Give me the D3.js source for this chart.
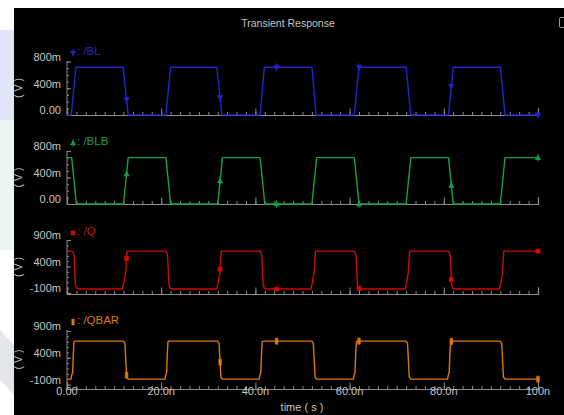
<!DOCTYPE html>
<html><head><meta charset="utf-8">
<script src="https://cdn.jsdelivr.net/npm/d3@7/dist/d3.min.js"></script>
<style>body{margin:0;background:#fff;overflow:hidden}svg{display:block}</style>
</head><body>
<svg id="c" width="564" height="415"></svg>
<script>
// ---------- data (time in ns, value in V) ----------
const blTime = [0,0.9,1.9,11.9,13.0,21.0,22.0,31.8,32.9,41.0,41.9,52.0,52.9,61.0,62.0,72.0,73.0,81.0,82.0,92.0,93.0,100];
const blVals = [0,0,0.715,0.715,0,0,0.715,0.715,0,0,0.715,0.715,0,0,0.715,0.715,0,0,0.715,0.715,0,0];

const blbTime = [0,1.0,2.0,12.0,13.0,21.0,22.0,32.0,33.0,41.0,42.0,52.0,53.0,61.0,62.0,72.0,73.0,81.0,82.0,92.0,93.0,100];
const blbVals = [0.70,0.70,0,0,0.70,0.70,0,0,0.70,0.70,0,0,0.70,0.70,0,0,0.70,0.70,0,0,0.70,0.70];

const qTime = [0,1.2,1.5,1.63,1.77,2.05,2.4,
  11.8,12.1,12.45,12.67,12.75,
  21.0,21.35,21.5,21.65,21.87,22.2,
  31.8,32.1,32.45,32.67,32.75,
  41.0,41.35,41.5,41.65,41.87,42.2,
  51.8,52.1,52.45,52.67,52.75,
  61.0,61.35,61.5,61.65,61.87,62.2,
  71.8,72.1,72.45,72.67,72.75,
  81.0,81.35,81.5,81.65,81.87,82.2,
  91.8,92.1,92.45,92.67,92.75,
  100];
const qVals = [0.69,0.69,0.62,0.34,0.06,-0.01,-0.025,
  -0.025,0.10,0.28,0.58,0.69,
  0.69,0.62,0.34,0.06,-0.01,-0.025,
  -0.025,0.10,0.28,0.58,0.69,
  0.69,0.62,0.34,0.06,-0.01,-0.025,
  -0.025,0.10,0.28,0.58,0.69,
  0.69,0.62,0.34,0.06,-0.01,-0.025,
  -0.025,0.10,0.28,0.58,0.69,
  0.69,0.62,0.34,0.06,-0.01,-0.025,
  -0.025,0.10,0.28,0.58,0.69,
  0.69];

const qbTime = [0,0.85,1.0,1.2,1.34,1.49,1.77,
  11.96,12.3,12.5,12.67,13.0,
  20.8,20.95,21.15,21.29,21.44,21.72,
  31.96,32.3,32.5,32.67,33.0,
  40.8,40.95,41.15,41.29,41.44,41.72,
  51.96,52.3,52.5,52.67,53.0,
  60.8,60.95,61.15,61.29,61.44,61.72,
  71.96,72.3,72.5,72.67,73.0,
  80.8,80.95,81.15,81.29,81.44,81.72,
  91.96,92.3,92.5,92.67,93.0,
  100];
const qbVals = [0.0,0.0,0.07,0.13,0.45,0.70,0.71,
  0.71,0.67,0.32,0.04,0.0,
  0.0,0.07,0.13,0.45,0.70,0.71,
  0.71,0.67,0.32,0.04,0.0,
  0.0,0.07,0.13,0.45,0.70,0.71,
  0.71,0.67,0.32,0.04,0.0,
  0.0,0.07,0.13,0.45,0.70,0.71,
  0.71,0.67,0.32,0.04,0.0,
  0.0,0.07,0.13,0.45,0.70,0.71,
  0.71,0.67,0.32,0.04,0.0,
  0.0];

const markerTimes = [12.65, 32.5, 44.5, 62.0, 81.6, 100];

const xTickValues = [0,20,40,60,80,100];
const xTickLabels = ["0.00","20.0n","40.0n","60.0n","80.0n","100n"];
const ticksA = [0,0.4,0.8], labelsA = ["0.00","400m","800m"];
const ticksB = [-0.1,0.4,0.9], labelsB = ["-100m","400m","900m"];

const title = "Transient Response";
const xTitle = "time ( s )";
const yTitle = "( V )";

// ---------- layout ----------
const svg = d3.select("#c");
const TXT = "#c4c4c4", AX = "#8c8c8c";
const FONT = "'Liberation Sans', Arial, sans-serif";

// white page with faint watermark at left
svg.append("rect").attr("width",564).attr("height",415).attr("fill","#ffffff");
svg.append("rect").attr("x",0).attr("y",30).attr("width",14).attr("height",90).attr("fill","#e2e5f6");
svg.append("rect").attr("x",0).attr("y",120).attr("width",14).attr("height",130).attr("fill","#eaf6ef");
svg.append("path").attr("d","M0,330 L14,345 L14,395 L0,380 Z").attr("fill","#e4e6ea");
// black plot window
svg.append("rect").attr("x",14).attr("y",8).attr("width",550).attr("height",407).attr("fill","#000");

// top-right icon
svg.append("rect").attr("x",559.5).attr("y",17.5).attr("width",8).attr("height",10).attr("rx",1)
  .attr("fill","none").attr("stroke","#9a9a9a").attr("stroke-width",1);

svg.append("text").attr("x",288).attr("y",24).attr("text-anchor","middle").attr("dominant-baseline","middle")
  .attr("fill",TXT).attr("font-family",FONT).attr("font-size",10.5).text(title);

const x = d3.scaleLinear().domain([0,100]).range([67,538]);

const panels = [
  {name:"/BL", t:blTime, v:blVals, color:"#2424cc", mk:"down", dom:[0,0.8], rng:[115,61.5], axisY:115, top:61, ticks:ticksA, labels:labelsA, legY:52},
  {name:"/BLB", t:blbTime, v:blbVals, color:"#14a04a", mk:"up", dom:[0,0.8], rng:[204,151], axisY:204, top:151, ticks:ticksA, labels:labelsA, legY:142},
  {name:"/Q", t:qTime, v:qVals, color:"#cc0a0a", mk:"sq", dom:[-0.1,0.9], rng:[293,240], axisY:294, top:240, ticks:ticksB, labels:labelsB, legY:232},
  {name:"/QBAR", t:qbTime, v:qbVals, color:"#dc7a08", mk:"bar", dom:[-0.1,0.9], rng:[384.5,331], axisY:389, top:330, ticks:ticksB, labels:labelsB, legY:321}
];

function valueAt(ts, vs, t){
  const i = d3.bisectLeft(ts, t);
  if (i <= 0) return vs[0];
  if (i >= ts.length) return vs[vs.length-1];
  const t0 = ts[i-1], t1 = ts[i];
  return d3.interpolateNumber(vs[i-1], vs[i])((t - t0) / (t1 - t0 || 1));
}

function markerPath(kind){
  if (kind === "down") return "M-2.5,-2 L2.5,-2 L0,2.5 Z M0,-4 L0,4";
  if (kind === "up") return "M-2.5,2 L2.5,2 L0,-2.5 Z M0,-4 L0,4";
  if (kind === "sq") return "M-2,-2 L2,-2 L2,2 L-2,2 Z";
  return "M-1.2,-3 L1.2,-3 L1.2,3 L-1.2,3 Z";
}

const minorX = d3.range(0, 101, 2);
const majorX = xTickValues;

panels.forEach(p => {
  const y = d3.scaleLinear().domain(p.dom).range(p.rng);
  const g = svg.append("g");

  // x axis baseline with ticks
  const xa = g.append("g").attr("transform",`translate(0,${p.axisY})`);
  xa.call(d3.axisTop(x).tickValues(minorX).tickSize(3).tickFormat(""));
  const xb = g.append("g").attr("transform",`translate(0,${p.axisY})`);
  xb.call(d3.axisTop(x).tickValues(majorX).tickSize(6.5).tickFormat(""));
  [xa,xb].forEach(s => { s.selectAll("path").attr("stroke",AX).attr("stroke-width",1.2);
    s.selectAll("line").attr("stroke",AX); });

  // y axis
  const minorY = d3.range(Math.round(p.dom[0]*10), Math.round(p.dom[1]*10)+1).map(d => d/10);
  const ya = g.append("g").attr("transform","translate(67,0)");
  ya.call(d3.axisRight(y).tickValues(minorY).tickSize(2).tickFormat("").tickSizeOuter(0));
  const yb = g.append("g").attr("transform","translate(67,0)");
  yb.call(d3.axisRight(y).tickValues(p.ticks).tickSize(4).tickFormat("").tickSizeOuter(0));
  [ya,yb].forEach(s => { s.select("path").remove(); s.selectAll("line").attr("stroke",AX); });
  g.append("line").attr("x1",67).attr("x2",67).attr("y1",p.axisY).attr("y2",p.top)
    .attr("stroke",AX).attr("stroke-width",1);

  // y tick labels
  g.selectAll("text.yl").data(p.ticks).join("text").attr("class","yl")
    .attr("x",61).attr("y",d => y(d) - 3.5).attr("text-anchor","end").attr("dominant-baseline","middle")
    .attr("fill",TXT).attr("font-family",FONT).attr("font-size",11)
    .text((d,i) => p.labels[i]);

  // y title
  const yc = (p.axisY + p.top) / 2;
  g.append("text").attr("transform",`translate(19,${yc}) rotate(-90)`)
    .attr("text-anchor","middle").attr("dominant-baseline","middle")
    .attr("fill",TXT).attr("font-family",FONT).attr("font-size",10.5).text(yTitle);

  // trace
  const line = d3.line().x((d,i) => x(p.t[i])).y(d => y(d));
  g.append("path").attr("d", line(p.v)).attr("fill","none").attr("stroke",p.color)
    .attr("stroke-width",1.4).attr("stroke-linejoin","round");

  // markers
  g.selectAll("path.mk").data(markerTimes).join("path").attr("class","mk")
    .attr("transform", t => `translate(${x(t)},${y(valueAt(p.t,p.v,t))})`)
    .attr("d", markerPath(p.mk)).attr("fill",p.color).attr("stroke",p.color).attr("stroke-width",0.8);

  // legend
  g.append("path").attr("transform",`translate(73,${p.legY+1})`).attr("d", markerPath(p.mk))
    .attr("fill",p.color).attr("stroke",p.color).attr("stroke-width",0.6);
  g.append("text").attr("x",77).attr("y",p.legY).attr("dominant-baseline","middle")
    .attr("fill",p.color).attr("font-family",FONT).attr("font-size",11.5).text(": " + p.name);
});

// x tick labels (bottom panel only)
svg.selectAll("text.xl").data(xTickValues).join("text").attr("class","xl")
  .attr("x", d => x(d)).attr("y",392).attr("text-anchor","middle").attr("dominant-baseline","middle")
  .attr("fill",TXT).attr("font-family",FONT).attr("font-size",11).text((d,i) => xTickLabels[i]);

svg.append("text").attr("x",302).attr("y",408).attr("text-anchor","middle").attr("dominant-baseline","middle")
  .attr("fill",TXT).attr("font-family",FONT).attr("font-size",11).text(xTitle);
</script>
</body></html>
